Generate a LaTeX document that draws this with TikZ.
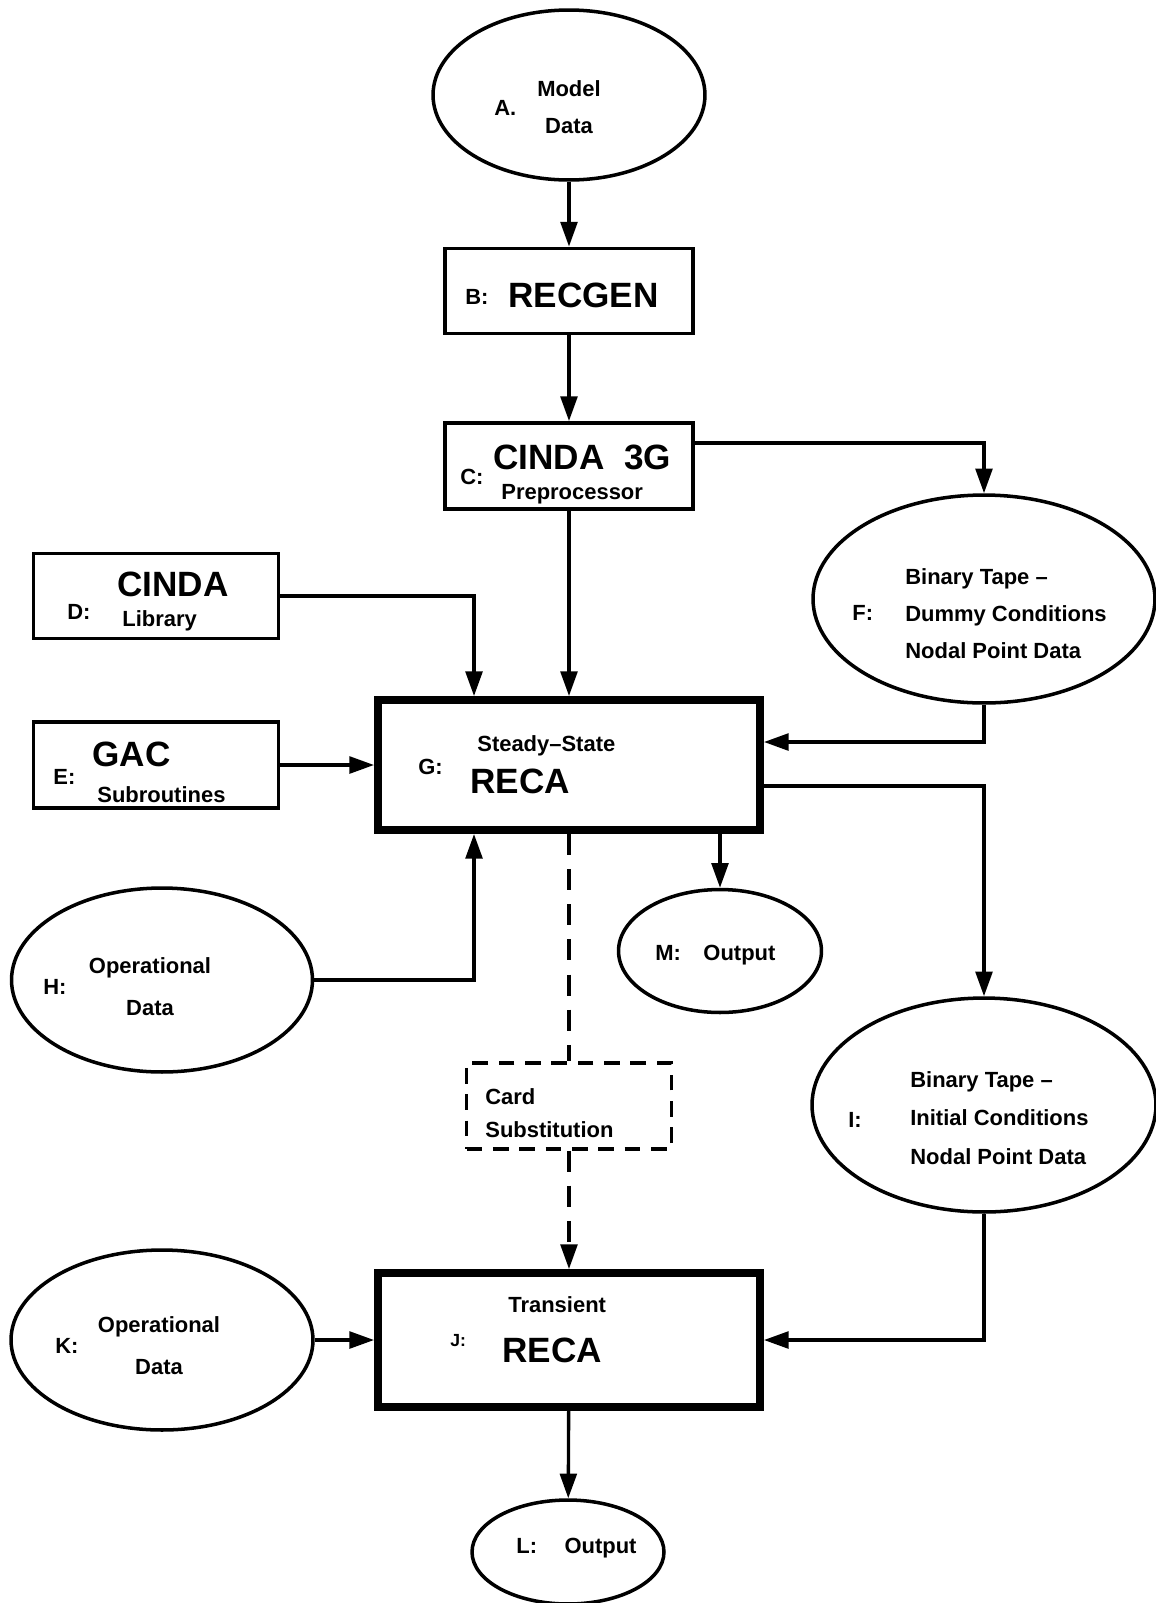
\documentclass[tikz,border=0pt]{standalone}
\usepackage{fontspec}
\setmainfont{Liberation Sans}
\usetikzlibrary{shapes.geometric,arrows.meta}

\tikzset{
  prgbox/.style={draw, line width=2.2pt, inner sep=0pt},
  recabox/.style={draw, line width=4.5pt, inner sep=0pt, minimum width=7.64cm, minimum height=2.6cm},
  dataoval/.style={draw, ellipse, line width=2pt, inner sep=0pt},
  cardbox/.style={draw, line width=1.8pt, dash pattern=on 9pt off 6pt, inner sep=0pt},
  flow/.style={line width=1.9pt, ->},
  subst/.style={line width=1.8pt, dash pattern=on 12pt off 8pt},
  bigtxt/.style={anchor=west, inner sep=0pt, font=\bfseries\fontsize{20}{24}\selectfont},
  smalltxt/.style={anchor=west, inner sep=0pt, font=\bfseries\fontsize{12.5}{15}\selectfont},
  lines/.style={anchor=west, inner sep=0pt, font=\bfseries\fontsize{12.5}{#1}\selectfont},
}

\begin{document}
\begin{tikzpicture}[x=0.02cm, y=-0.02cm, >={Triangle[length=14pt,width=9.5pt]}]
			\useasboundingbox (0,0) rectangle (1156,1603) ;
			% shapes
			\node[dataoval, minimum width=5.44cm, minimum height=3.4cm] (Model) at (569,95) {} ;
			\node[prgbox, minimum width=4.96cm, minimum height=1.7cm] (RECGEN) at (569,291) {} ;
			\node[prgbox, minimum width=4.96cm, minimum height=1.72cm] (CINDApre) at (569,466) {} ;
			\node[prgbox, minimum width=4.9cm, minimum height=1.7cm] (Library) at (156,596) {} ;
			\node[prgbox, minimum width=4.9cm, minimum height=1.72cm] (GAC) at (156,765) {} ;
			\node[dataoval, minimum width=6.84cm, minimum height=4.16cm] (DummyTape) at (984,599) {} ;
			\node[recabox] (SteadyRECA) at (569,765) {} ;
			\node[dataoval, minimum width=6.02cm, minimum height=3.68cm] (OpDataSS) at (162,980) {} ;
			\node[dataoval, minimum width=4.06cm, minimum height=2.46cm] (SSOutput) at (720,951) {} ;
			\node[cardbox, minimum width=4.1cm, minimum height=1.72cm] (CardSub) at (569,1106) {} ;
			\node[dataoval, minimum width=6.88cm, minimum height=4.28cm] (InitTape) at (984,1105) {} ;
			\node[recabox, minimum height=2.68cm] (TransRECA) at (569,1340) {} ;
			\node[dataoval, minimum width=6.04cm, minimum height=3.6cm] (OpDataTr) at (162,1340) {} ;
			\node[dataoval, minimum width=3.84cm, minimum height=2.08cm] (TrOutput) at (568,1552) {} ;
			% texts
			\node[smalltxt] (Atag) at (494,108) {A.} ;
			\node[lines=21, anchor=center, align=center] (Atxt) at (569,107) {Model\\Data} ;
			\node[smalltxt] (Btag) at (465,297) {B:} ;
			\node[bigtxt] (Btxt) at (508,295) {RECGEN} ;
			\node[smalltxt] (Ctag) at (460,477) {C:} ;
			\node[bigtxt] (Ctxt) at (493,457) {CINDA\ \ 3G} ;
			\node[smalltxt] (Csub) at (501,494) {Preprocessor} ;
			\node[smalltxt] (Dtag) at (67,612) {D:} ;
			\node[bigtxt] (Dtxt) at (117,584) {CINDA} ;
			\node[smalltxt] (Dsub) at (122,621) {Library} ;
			\node[smalltxt] (Etag) at (53,777) {E:} ;
			\node[bigtxt] (Etxt) at (92,754) {GAC} ;
			\node[smalltxt] (Esub) at (97,795) {Subroutines} ;
			\node[smalltxt] (Ftag) at (852,613) {F:} ;
			\node[lines=21, align=left] (Ftxt) at (905,614) {Binary Tape --\\Dummy Conditions\\Nodal Point Data} ;
			\node[smalltxt] (Gtag) at (418,767) {G:} ;
			\node[smalltxt] (Gsub) at (477,746) {Steady--State} ;
			\node[bigtxt] (Gtxt) at (470,781) {RECA} ;
			\node[smalltxt] (Htag) at (43,987) {H:} ;
			\node[lines=24, anchor=center, align=center] (Htxt) at (150,987) {Operational\\Data} ;
			\node[smalltxt] (Mtxt) at (655,955) {M:\hspace{0.45cm}Output} ;
			\node[lines=19, align=left] (Cardtxt) at (485,1113) {Card\\Substitution} ;
			\node[smalltxt] (Itag) at (848,1120) {I:} ;
			\node[lines=22, align=left] (Itxt) at (910,1118) {Binary Tape --\\Initial Conditions\\Nodal Point Data} ;
			\node[smalltxt] (Jsub) at (508,1305) {Transient} ;
			\node[smalltxt, font=\bfseries\fontsize{10}{12}\selectfont] (Jtag) at (450,1341) {J:} ;
			\node[bigtxt] (Jtxt) at (502,1350) {RECA} ;
			\node[smalltxt] (Ktag) at (55,1346) {K:} ;
			\node[lines=24, anchor=center, align=center] (Ktxt) at (159,1346) {Operational\\Data} ;
			\node[smalltxt] (Ltxt) at (516,1548) {L:\hspace{0.55cm}Output} ;
			% connectors
			\draw[flow] (Model) -- (RECGEN) ;
			\draw[flow] (RECGEN) -- (CINDApre) ;
			\draw[flow] ([yshift=0.46cm]CINDApre.east) -| (DummyTape) ;
			\draw[flow] (CINDApre) -- (SteadyRECA) ;
			\draw[flow] (Library) -| ([xshift=-1.9cm]SteadyRECA.north) ;
			\draw[flow] (GAC) -- (SteadyRECA) ;
			\draw[flow] (DummyTape) |- ([yshift=0.46cm]SteadyRECA.east) ;
			\draw[flow] ([yshift=-0.42cm]SteadyRECA.east) -| (InitTape) ;
			\draw[flow] (SteadyRECA.south -| SSOutput.north) -- (SSOutput) ;
			\draw[flow] (OpDataSS) -| ([xshift=-1.9cm]SteadyRECA.south) ;
			\draw[subst] (SteadyRECA) -- (CardSub) ;
			\draw[subst, ->] (CardSub) -- (TransRECA) ;
			\draw[flow] (InitTape) |- (TransRECA) ;
			\draw[flow] (OpDataTr) -- (TransRECA) ;
			\draw[flow] (TransRECA) -- (TrOutput) ;
		\end{tikzpicture}
\end{document}
